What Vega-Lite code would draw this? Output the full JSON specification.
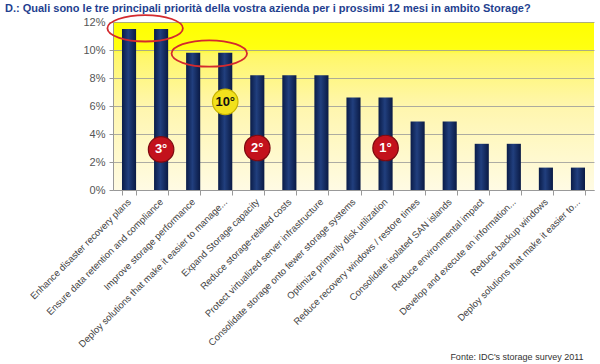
{
  "$schema": "https://vega.github.io/schema/vega-lite/v6.json",
  "width": 481,
  "height": 168,
  "autosize": {"type": "none"},
  "padding": {"left": 113, "top": 22, "right": 6, "bottom": 174},
  "title": {
    "text": "D.: Quali sono le tre principali priorità della vostra azienda per i prossimi 12 mesi in ambito Storage?",
    "anchor": "start",
    "frame": "group",
    "dx": -108,
    "dy": 5,
    "offset": 2,
    "font": "Liberation Sans",
    "fontSize": 11,
    "fontWeight": "bold",
    "color": "#1f3f8f"
  },
  "config": {
    "font": "Liberation Sans",
    "axisY": {
      "title": null,
      "labelFontSize": 11,
      "labelColor": "#555555",
      "labelPadding": 4,
      "labelOverlap": false,
      "tickColor": "#999999",
      "tickSize": 4,
      "domainColor": "#999999",
      "gridColor": "#999999",
      "gridOpacity": 0.8
    },
    "view": {
      "stroke": null,
      "fill": {
        "gradient": "linear",
        "x1": 0, "y1": 0, "x2": 0, "y2": 1,
        "stops": [
          {"offset": 0, "color": "#ffff00"},
          {"offset": 0.16, "color": "#ffff12"},
          {"offset": 0.19, "color": "#fff766"},
          {"offset": 0.5, "color": "#fff6ad"},
          {"offset": 1, "color": "#fffbe4"}
        ]
      }
    }
  },
  "data": {
    "values": [
      {"item": "Enhance disaster recovery plans", "share": 0.115, "ring": 0.1155},
      {"item": "Ensure data retention and compliance", "share": 0.115, "badge": "3°", "badgeAt": 0.029},
      {"item": "Improve storage performance", "share": 0.098, "ring": 0.0975},
      {"item": "Deploy solutions that make it easier to manage...", "share": 0.098, "badge": "10°", "badgeAt": 0.063},
      {"item": "Expand Storage capacity", "share": 0.082, "badge": "2°", "badgeAt": 0.03},
      {"item": "Reduce storage-related costs", "share": 0.082},
      {"item": "Protect virtualized server infrastructure", "share": 0.082},
      {"item": "Consolidate storage onto fewer storage systems", "share": 0.066},
      {"item": "Optimize primarily disk utilization", "share": 0.066, "badge": "1°", "badgeAt": 0.03},
      {"item": "Reduce recovery windows / restore times", "share": 0.049},
      {"item": "Consolidate isolated SAN islands", "share": 0.049},
      {"item": "Reduce environmental impact", "share": 0.033},
      {"item": "Develop and execute an information...", "share": 0.033},
      {"item": "Reduce backup windows", "share": 0.016},
      {"item": "Deploy solutions that make it easier to...", "share": 0.016}
    ]
  },
  "encoding": {
    "x": {
      "field": "item",
      "type": "nominal",
      "sort": null,
      "scale": {"paddingInner": 0.56, "paddingOuter": 0.28},
      "axis": {
        "title": "Fonte: IDC's storage survey 2011",
        "titleAnchor": "end",
        "titleAlign": "right",
        "titleBaseline": "middle",
        "titleX": 470,
        "titleY": 166,
        "titleFontSize": 9,
        "titleFontWeight": "normal",
        "titleColor": "#333333",
        "labelAngle": -45,
        "labelAlign": "right",
        "labelBaseline": "middle",
        "labelFontSize": 9.5,
        "labelColor": "#444444",
        "labelLimit": 0,
        "labelOverlap": false,
        "labelPadding": 5,
        "tickBand": "extent",
        "tickColor": "#999999",
        "tickSize": 5,
        "domainColor": "#999999",
        "grid": false
      }
    }
  },
  "layer": [
    {
      "mark": {
        "type": "bar",
        "color": {
          "gradient": "linear",
          "x1": 0, "y1": 0, "x2": 1, "y2": 0,
          "stops": [
            {"offset": 0, "color": "#0a1c48"},
            {"offset": 0.45, "color": "#213f7e"},
            {"offset": 1, "color": "#0a1a44"}
          ]
        }
      },
      "encoding": {
        "y": {
          "field": "share",
          "type": "quantitative",
          "scale": {"domain": [0, 0.12], "nice": false},
          "axis": {"format": ".0%", "values": [0, 0.02, 0.04, 0.06, 0.08, 0.1, 0.12]}
        }
      }
    },
    {
      "transform": [{"filter": "isValid(datum.ring)"}],
      "mark": {
        "type": "point",
        "shape": "M -0.573 0 C -0.573 -0.19 -0.123 -0.35 0.427 -0.35 C 0.977 -0.35 1.427 -0.19 1.427 0 C 1.427 0.19 0.977 0.35 0.427 0.35 C -0.123 0.35 -0.573 0.19 -0.573 0 Z",
        "size": 5700,
        "filled": false,
        "stroke": "#d42a2e",
        "strokeWidth": 1.8,
        "opacity": 1
      },
      "encoding": {
        "y": {
          "field": "ring",
          "type": "quantitative",
          "scale": {"domain": [0, 0.12], "nice": false},
          "axis": {"format": ".0%", "values": [0, 0.02, 0.04, 0.06, 0.08, 0.1, 0.12]}
        }
      }
    },
    {
      "transform": [{"filter": "isValid(datum.badge)"}],
      "mark": {"type": "point", "shape": "circle", "filled": true, "size": 650, "opacity": 1, "strokeWidth": 1.2},
      "encoding": {
        "y": {
          "field": "badgeAt",
          "type": "quantitative",
          "scale": {"domain": [0, 0.12], "nice": false},
          "axis": {"format": ".0%", "values": [0, 0.02, 0.04, 0.06, 0.08, 0.1, 0.12]}
        },
        "fill": {"condition": {"test": "datum.badge === '10°'", "value": "#f2e11c"}, "value": "#c3121c"},
        "stroke": {"condition": {"test": "datum.badge === '10°'", "value": "#c9b400"}, "value": "#7d0a10"}
      }
    },
    {
      "transform": [{"filter": "isValid(datum.badge)"}],
      "mark": {"type": "text", "fontSize": 13, "fontWeight": "bold", "align": "center", "baseline": "middle"},
      "encoding": {
        "y": {
          "field": "badgeAt",
          "type": "quantitative",
          "scale": {"domain": [0, 0.12], "nice": false},
          "axis": {"format": ".0%", "values": [0, 0.02, 0.04, 0.06, 0.08, 0.1, 0.12]}
        },
        "text": {"field": "badge"},
        "color": {"condition": {"test": "datum.badge === '10°'", "value": "#111111"}, "value": "#ffffff"}
      }
    }
  ]
}
